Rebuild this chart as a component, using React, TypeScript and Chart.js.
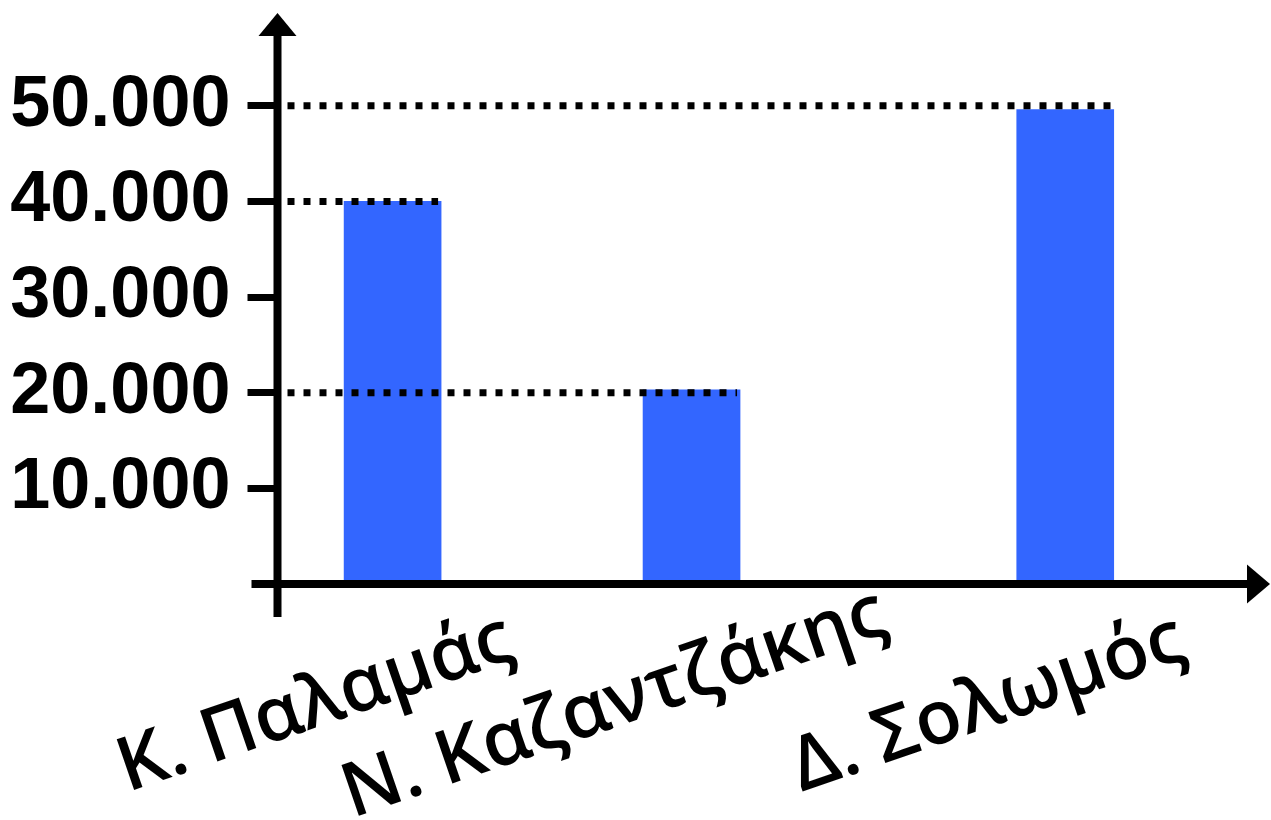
import React, { useEffect, useRef } from 'react';
import { Chart, registerables } from 'chart.js';

Chart.register(...registerables);

// ---- data ----
const categories = ['Κ. Παλαμάς', 'Ν. Καζαντζάκης', 'Δ. Σολωμός'];
const values = [40000, 20300, 49600];
const guideValues = [40000, 20000, 50000];
const yTickValues = [10000, 20000, 30000, 40000, 50000];
const yTickLabels = ['10.000', '20.000', '30.000', '40.000', '50.000'];

// ---- layout (category positions on a linear x axis) ----
const categoryPositions = [1, 2, 3.25];
const X_MIN = 0.615;
const X_MAX = 3.858;
const Y_MAX = 59700;

const BAR_COLOR = '#3366ff';
const LABEL_ANGLE = -19;

const axesPlugin = {
  id: 'axesArrows',
  afterDatasetsDraw(chart: any) {
    const { ctx, chartArea } = chart;
    const yScale = chart.scales.y;
    const x0 = chartArea.left;
    const y0 = yScale.getPixelForValue(0);
    const meta = chart.getDatasetMeta(0);
    ctx.save();
    ctx.strokeStyle = '#000';
    ctx.fillStyle = '#000';
    // dotted guides
    ctx.lineWidth = 7;
    ctx.lineCap = 'butt';
    ctx.setLineDash([7, 9]);
    guideValues.forEach((v, i) => {
      const el: any = meta.data[i];
      if (!el) return;
      const yy = yScale.getPixelForValue(v);
      const right = el.x + el.width / 2 - 3;
      ctx.beginPath();
      ctx.moveTo(x0 + 10, yy);
      ctx.lineTo(right, yy);
      ctx.stroke();
    });
    ctx.setLineDash([]);
    // y axis
    ctx.lineWidth = 8;
    ctx.beginPath();
    ctx.moveTo(x0, y0 + 33);
    ctx.lineTo(x0, chartArea.top + 15);
    ctx.stroke();
    ctx.beginPath();
    ctx.moveTo(x0, chartArea.top);
    ctx.lineTo(x0 - 19, chartArea.top + 23);
    ctx.lineTo(x0 + 19, chartArea.top + 23);
    ctx.closePath();
    ctx.fill();
    // x axis
    ctx.beginPath();
    ctx.moveTo(x0 - 26, y0);
    ctx.lineTo(chartArea.right + 5, y0);
    ctx.stroke();
    ctx.beginPath();
    ctx.moveTo(chartArea.right + 23, y0);
    ctx.lineTo(chartArea.right, y0 - 19.5);
    ctx.lineTo(chartArea.right, y0 + 19.5);
    ctx.closePath();
    ctx.fill();
    ctx.restore();
  },
  afterDraw(chart: any) {
    const { ctx } = chart;
    const meta = chart.getDatasetMeta(0);
    ctx.save();
    ctx.fillStyle = '#000';
    ctx.font = '600 75px "Open Sans"';
    ctx.textAlign = 'center';
    ctx.textBaseline = 'middle';
    categories.forEach((label, i) => {
      const el: any = meta.data[i];
      if (!el) return;
      ctx.save();
      ctx.translate(el.x - 77, 705);
      ctx.rotate((LABEL_ANGLE * Math.PI) / 180);
      ctx.fillText(label, 0, 0);
      ctx.restore();
    });
    ctx.restore();
  },
};

export default function App() {
  const canvasRef = useRef<HTMLCanvasElement | null>(null);

  useEffect(() => {
    if (!canvasRef.current) return;
    const chart = new Chart(canvasRef.current, {
      type: 'bar',
      data: {
        datasets: [
          {
            data: categoryPositions.map((p, i) => ({ x: p, y: values[i] })),
            backgroundColor: BAR_COLOR,
            borderWidth: 0,
            barThickness: 97,
          },
        ],
      },
      options: {
        animation: false,
        responsive: true,
        maintainAspectRatio: false,
        layout: { padding: { top: 13, right: 24, bottom: 236, left: 0 } },
        plugins: { legend: { display: false }, tooltip: { enabled: false } },
        scales: {
          x: { type: 'linear', min: X_MIN, max: X_MAX, display: false, offset: false },
          y: {
            min: 0,
            max: Y_MAX,
            afterBuildTicks: (s: any) => {
              s.ticks = yTickValues.map((v) => ({ value: v }));
            },
            afterFit: (s: any) => {
              s.width = 277.5;
              s.paddingTop = 0;
              s.paddingBottom = 0;
            },
            border: { display: false },
            grid: {
              display: true,
              drawOnChartArea: false,
              drawTicks: true,
              tickLength: 30,
              tickWidth: 7,
              tickColor: '#000',
            },
            ticks: {
              color: '#000',
              padding: 17,
              font: { family: '"Liberation Sans", Arial, sans-serif', size: 72, weight: 'bold' },
              callback: (v: any) => {
                const idx = yTickValues.indexOf(Number(v));
                return idx >= 0 ? yTickLabels[idx] : '';
              },
            },
          },
        },
      },
      plugins: [axesPlugin],
    } as any);
    return () => chart.destroy();
  }, []);

  return (
    <div style={{ position: 'fixed', left: 0, top: 0, width: 1271, height: 820, background: '#fff' }}>
      <canvas ref={canvasRef} />
    </div>
  );
}
